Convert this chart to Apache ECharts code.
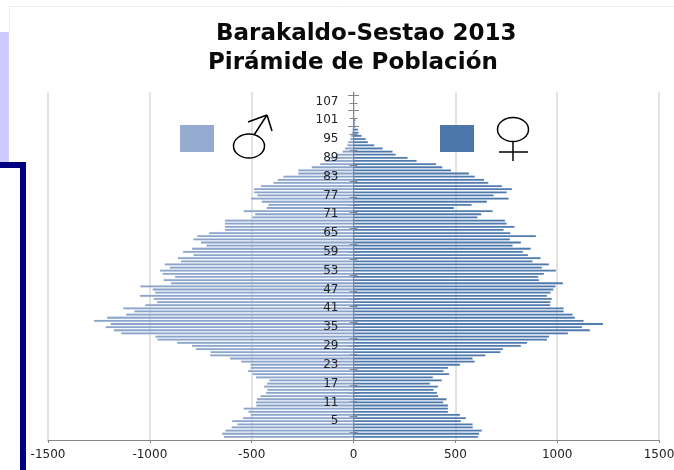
<!DOCTYPE html>
<html><head><meta charset="utf-8">
<style>html,body{margin:0;padding:0;background:#fff}#c{width:674px;height:470px}</style>
<script src="https://cdn.jsdelivr.net/npm/echarts@6/dist/echarts.min.js"></script>
</head><body><div id="c"></div>
<script>
const titleLines = ['Barakaldo-Sestao 2013', 'Pirámide de Población'];
const ages = ['']; for (let a = 0; a <= 110; a++) ages.push(String(a));
const maleValues = [null,
-637,-646,-630,-599,-571,-597,-543,-506,-517,-540,
-478,-480,-475,-457,-430,-424,-440,-425,-414,-480,
-497,-519,-506,-506,-552,-607,-705,-702,-774,-794,
-867,-964,-974,-1141,-1177,-1218,-1193,-1275,-1211,-1118,
-1077,-1131,-1023,-966,-982,-1049,-975,-987,-1047,-897,
-933,-877,-938,-951,-903,-928,-848,-863,-786,-838,
-794,-723,-750,-787,-768,-710,-632,-632,-632,-632,
-498,-484,-540,-427,-419,-452,-504,-473,-489,-489,
-455,-394,-373,-345,-272,-272,-206,-165,-140,-116,
-83,-54,-43,-31,-25,-17,-13,-8,-6,-4,-2,-1];
const femaleValues = [null,
613,618,631,587,586,528,553,524,465,465,
465,442,458,417,411,394,416,376,435,391,
471,443,465,524,596,586,648,723,735,823,
853,951,961,1054,1162,1123,1226,1131,1088,1077,
1033,1033,967,969,975,951,969,982,993,1029,
912,908,936,995,926,961,880,920,858,833,
871,782,823,769,897,771,738,792,753,745,
610,628,684,494,581,656,763,689,753,779,
730,663,642,597,568,480,437,406,311,267,
208,193,144,103,72,61,41,26,23,10,8,10];
const xTicks = {min: -1500, max: 1500, interval: 500};
const MALE = '#8aa3ca', FEMALE = '#4a76aa', TICK = '#868686';
const font = '"DejaVu Sans"';
const chart = echarts.init(document.getElementById('c'), null, {renderer: 'canvas'});
const hiddenX = i => ({type: 'value', gridIndex: i, min: xTicks.min, max: xTicks.max, interval: xTicks.interval, show: false});
const tickY = (i, inside) => ({
  type: 'value', gridIndex: i, min: 0, max: 110, interval: 5,
  axisLine: {show: false, onZero: true}, axisLabel: {show: false}, splitLine: {show: false},
  axisTick: {show: true, inside, length: 5.5, lineStyle: {color: TICK, width: 1}},
  minorTick: {show: true, splitNumber: 2, length: 4, lineStyle: {color: TICK, width: 1}},
  minorSplitLine: {show: false}
});
const line = (x1, y1, x2, y2, color, w) => ({type: 'line', shape: {x1, y1, x2, y2}, style: {stroke: color, lineWidth: w}, z: 20});
const rect = (x, y, width, height, fill) => ({type: 'rect', shape: {x, y, width, height}, style: {fill}, z: 20});
const ell = (cx, cy) => ({type: 'ellipse', shape: {cx, cy, rx: 15.5, ry: 12}, style: {fill: 'transparent', stroke: '#000', lineWidth: 1.5}, z: 20});
const titleStyle = {fontFamily: font, fontWeight: 'bold', fontSize: 23, color: '#0a0a0a'};
chart.setOption({
  animation: false,
  backgroundColor: '#fff',
  title: [
    {text: titleLines[0], left: 216, top: 23, padding: 0, textStyle: titleStyle},
    {text: titleLines[1], left: 208, top: 52, padding: 0, textStyle: titleStyle}
  ],
  grid: [0, 1, 2].map(i => ({left: 48, right: 15, top: i === 0 ? 92 : 95, bottom: 30, outerBoundsMode: 'none', containLabel: false})),
  xAxis: [
    {type: 'value', gridIndex: 0, min: xTicks.min, max: xTicks.max, interval: xTicks.interval,
     axisLine: {show: true, lineStyle: {color: TICK, width: 1}},
     axisTick: {show: true, length: 3, lineStyle: {color: TICK}},
     axisLabel: {fontFamily: font, fontSize: 12, color: '#222', margin: 9, hideOverlap: false, formatter: v => String(v)},
     splitLine: {show: true, lineStyle: {color: '#dcdcdc', width: 1.6}}},
    hiddenX(1), hiddenX(2)
  ],
  yAxis: [
    {type: 'category', gridIndex: 0, data: ages, boundaryGap: false, position: 'left', offset: -305.5, z: 12,
     axisLine: {show: true, onZero: false, lineStyle: {color: TICK, width: 1}},
     axisTick: {show: false},
     axisLabel: {fontFamily: font, fontSize: 12, color: '#222', margin: 15,
       interval: (i, v) => v !== '' && (Number(v) - 5) % 6 === 0}},
    tickY(1, true), tickY(2, false)
  ],
  series: [
    {name: 'Hombres', type: 'bar', data: maleValues, barWidth: 2.4, barGap: '-100%', itemStyle: {color: MALE, borderColor: 'rgba(170,190,220,0.3)', borderWidth: 0.6}, xAxisIndex: 0, yAxisIndex: 0, silent: true},
    {name: 'Mujeres', type: 'bar', data: femaleValues, barWidth: 2.4, barGap: '-100%', itemStyle: {color: FEMALE, borderColor: 'rgba(170,190,215,0.3)', borderWidth: 0.6}, xAxisIndex: 0, yAxisIndex: 0, silent: true}
  ],
  graphic: {elements: [
    rect(0, 32, 9, 130, '#ccccff'),
    line(9, 6.5, 674, 6.5, '#e4ecf4', 1),
    line(9.5, 6, 9.5, 32, '#e4ecf4', 1),
    rect(0, 162, 26, 6, '#000080'),
    rect(20, 162, 6, 308, '#000080'),
    rect(180, 125, 34, 27, '#95abcf'),
    rect(440, 125, 34, 27, FEMALE),
    ell(249, 146),
    line(254, 135, 267, 115, '#000', 1.5),
    line(248, 122, 267, 115, '#000', 1.5),
    line(267, 115, 272, 131, '#000', 1.5),
    ell(513, 129.5),
    line(513, 141.5, 513, 161, '#000', 1.5),
    line(499, 152, 528, 152, '#000', 1.5)
  ]}
});
</script></body></html>
